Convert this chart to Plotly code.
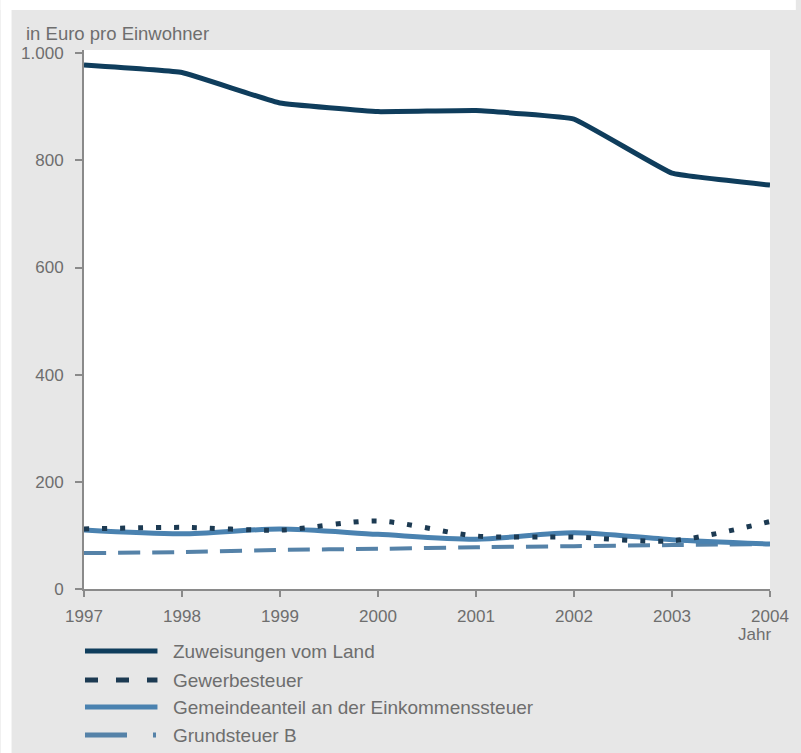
import plotly.graph_objects as go

years = [1997, 1998, 1999, 2000, 2001, 2002, 2003, 2004]
zuweisungen = [978, 964, 907, 891, 893, 877, 776, 754]
gewerbe = [112, 115, 110, 127, 99, 97, 90, 126]
einkommen = [110, 103, 112, 102, 93, 105, 92, 84]
grundsteuer = [67, 69, 73, 75, 78, 80, 82, 84]
names = ["Zuweisungen vom Land", "Gewerbesteuer",
         "Gemeindeanteil an der Einkommenssteuer", "Grundsteuer B"]
ytickvals = [0, 200, 400, 600, 800, 1000]
yticktext = ["0", "200", "400", "600", "800", "1.000"]

FONT = "Liberation Sans, Arial, sans-serif"
GRAY = "#6e6e6e"
C_ZUW = "#0f3d5c"
C_GEW = "#1c3a52"
C_EIN = "#4a82b0"
C_GRU = "#5582a8"

W, H = 801, 753
L, R, T, B = 84, 26, 50, 164
pw, ph = W - L - R, H - T - B

def px(x):
    return (x - L) / pw

def py(y):
    return (H - B - y) / ph

fig = go.Figure()
fig.add_trace(go.Scatter(x=years, y=grundsteuer, mode="lines", name=names[3],
                         line=dict(color=C_GRU, width=4, dash="22px,12px", shape="spline", smoothing=0.6)))
fig.add_trace(go.Scatter(x=years, y=einkommen, mode="lines", name=names[2],
                         line=dict(color=C_EIN, width=5, shape="spline", smoothing=0.8)))
fig.add_trace(go.Scatter(x=years, y=gewerbe, mode="lines", name=names[1],
                         line=dict(color=C_GEW, width=5, dash="5px,13px", shape="spline", smoothing=0.8)))
fig.add_trace(go.Scatter(x=years, y=zuweisungen, mode="lines", name=names[0],
                         line=dict(color=C_ZUW, width=5, shape="spline", smoothing=0.25)))

shapes = [
    # white strips at top and left of the page
    dict(type="rect", xref="paper", yref="paper", x0=px(0), x1=px(W), y0=py(10), y1=py(0),
         fillcolor="white", line=dict(width=0), layer="above"),
    dict(type="rect", xref="paper", yref="paper", x0=px(0), x1=px(11), y0=py(H), y1=py(0),
         fillcolor="white", line=dict(width=0), layer="above"),
]

# custom legend
leg_y = [651, 680, 707, 735]
leg_styles = [
    dict(color=C_ZUW, width=5, dash="solid"),
    dict(color=C_GEW, width=5, dash="13px,18px"),
    dict(color=C_EIN, width=5, dash="solid"),
    dict(color=C_GRU, width=5, dash="42px,26px,3px,40px"),
]
annotations = []
for yy, st, nm in zip(leg_y, leg_styles, names):
    shapes.append(dict(type="line", xref="paper", yref="paper", x0=px(85), x1=px(158),
                       y0=py(yy), y1=py(yy), line=st))
    annotations.append(dict(text=nm, xref="paper", yref="paper", x=px(172), y=py(yy),
                            xanchor="left", yanchor="middle", showarrow=False,
                            font=dict(family=FONT, size=19, color=GRAY)))

annotations.append(dict(text="in Euro pro Einwohner", xref="paper", yref="paper",
                        x=px(24), y=py(33), xanchor="left", yanchor="middle", showarrow=False,
                        font=dict(family=FONT, size=18.5, color=GRAY)))
annotations.append(dict(text="Jahr", xref="x", yref="paper", x=2004, y=py(634),
                        xanchor="center", yanchor="middle", xshift=-16, showarrow=False,
                        font=dict(family=FONT, size=17, color=GRAY)))

fig.update_layout(
    width=W, height=H,
    margin=dict(l=L, r=R, t=T, b=B),
    paper_bgcolor="#e7e7e7",
    plot_bgcolor="white",
    showlegend=False,
    shapes=shapes,
    annotations=annotations,
    font=dict(family=FONT, size=17, color=GRAY),
)
fig.update_xaxes(range=[1997, 2004], tickvals=years, ticktext=[str(y) for y in years],
                 showgrid=False, zeroline=False, showline=True, linecolor="#8a8a8a", linewidth=2,
                 ticks="outside", ticklen=6, tickcolor="#8a8a8a", tickwidth=2,
                 tickfont=dict(family=FONT, size=17, color=GRAY), ticklabelstandoff=5)
fig.update_yaxes(range=[0, 1006], tickvals=ytickvals, ticktext=yticktext,
                 showgrid=False, zeroline=False, showline=True, linecolor="#8a8a8a", linewidth=2,
                 ticks="outside", ticklen=7, tickcolor="#8a8a8a", tickwidth=2,
                 tickfont=dict(family=FONT, size=17, color=GRAY), ticklabelstandoff=8)

fig.write_html("out.html", config={"displayModeBar": False},
               post_script="document.body.style.margin='0';document.body.style.overflow='hidden';")
